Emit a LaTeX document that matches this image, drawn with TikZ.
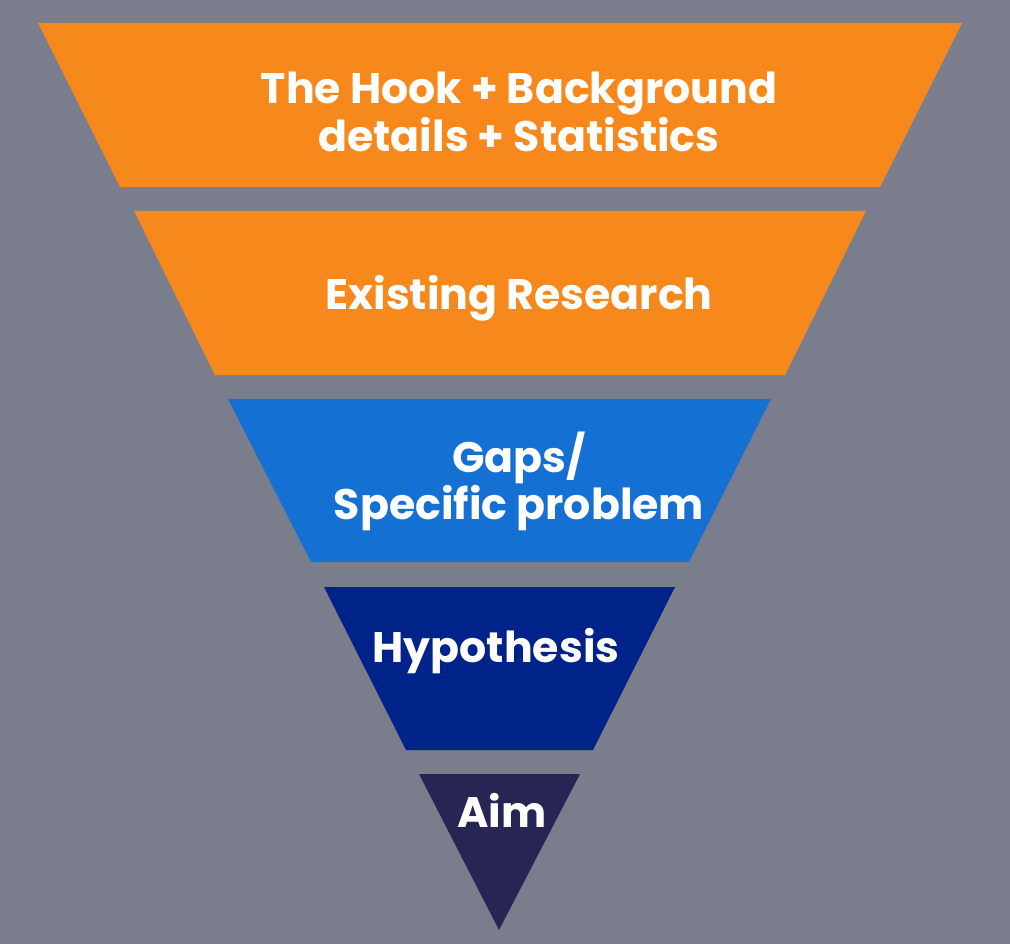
\documentclass[tikz,border=0pt]{standalone}
\usepackage{fontspec}
\setmainfont{Poppins}
\definecolor{Canvas}{HTML}{7A7D8C}
\definecolor{Orange}{HTML}{F7891C}
\definecolor{SkyBlue}{HTML}{1570D4}
\definecolor{Royal}{HTML}{00238A}
\definecolor{Navy}{HTML}{262553}
\begin{document}
\begin{tikzpicture}[x=0.75pt,y=-0.75pt,every node/.style={font=\bfseries\fontsize{32}{28.5}\selectfont,text=white,align=center}]
\fill[Canvas] (0,0) rectangle (1010,944);
\fill[Orange] (38,23)--(962,23)--(880,187)--(120,187)--cycle;
\fill[Orange] (134,211)--(866,211)--(785,375)--(215,375)--cycle;
\fill[SkyBlue] (228,399)--(771,399)--(689,562)--(311,562)--cycle;
\fill[Royal] (324,587)--(675,587)--(593,750)--(406,750)--cycle;
\fill[Navy] (419,774)--(580,774)--(499,930)--cycle;
\node (hook) at (519,112) {The Hook + Background\\details + Statistics};
\node (research) at (519,298) {Existing Research};
\node (gaps) at (519,481) {Gaps/\\Specific problem};
\node (hypo) at (496,651) {Hypothesis};
\node (aim) at (502,810) {Aim};
\end{tikzpicture}
\end{document}
